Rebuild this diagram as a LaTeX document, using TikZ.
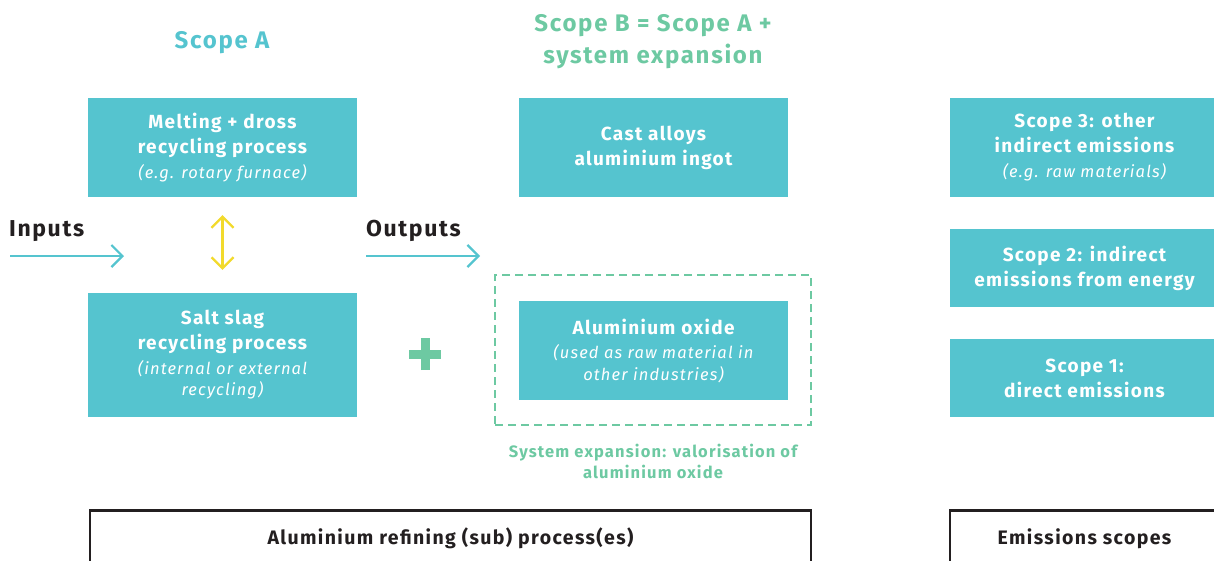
\documentclass[tikz,border=0pt]{standalone}
\usepackage{fontspec}
\setmainfont{Fira Sans}[LetterSpace=7]
\usetikzlibrary{arrows.meta,positioning}
\definecolor{boxteal}{HTML}{55C4CF}
\definecolor{scopegreen}{HTML}{6DC9A2}
\definecolor{arrowyellow}{HTML}{F2DA2C}
\definecolor{inktext}{HTML}{231F20}
\newcommand{\subtxt}[1]{{\fontsize{16.5}{20}\selectfont\mdseries\itshape #1}}
\tikzstyle{procbox}=[fill=boxteal,text=white,minimum width=269pt,minimum height=99pt,inner sep=0pt,align=center,font=\fontsize{19}{25}\selectfont\bfseries]
\tikzstyle{scopebox}=[procbox,minimum height=78pt]
\tikzstyle{footbox}=[draw=inktext,line width=2.5pt,anchor=north,minimum height=56pt,inner sep=0pt,text=inktext,font=\fontsize{19.5}{22}\selectfont\bfseries]
\tikzstyle{flowlabel}=[anchor=west,inner sep=0pt,text=inktext,font=\fontsize{23}{28}\selectfont\bfseries]
\tikzstyle{flowarrow}=[boxteal,line width=2.2pt,-{Straight Barb[length=11pt,width=22pt,line width=2.2pt]}]

\begin{document}
\begin{tikzpicture}[x=1pt,y=-1pt]
    \useasboundingbox (0,0) rectangle (1214,560);
    \clip (0,0) rectangle (1214,560);
    % scope titles
    \node [text=boxteal,font=\fontsize{24}{30}\selectfont\bfseries] (titleA) at (222,43) {Scope A};
    \node [text=scopegreen,align=center,font=\fontsize{24}{32}\selectfont\bfseries] (titleB) at (653,42) {Scope B = Scope A +\\system expansion};
    % process boxes
    \node [procbox] (melt) at (222.5,147.5) {Melting + dross\\recycling process\\\subtxt{(e.g. rotary furnace)}};
    \node [procbox,minimum height=124pt] (salt) at (222.5,355) {Salt slag\\recycling process\\\subtxt{(internal or external}\\[-4pt]\subtxt{recycling)}};
    \node [procbox] (cast) at (653.5,147.5) {Cast alloys\\aluminium ingot};
    \node [procbox] (oxide) at (653.5,350.5) {Aluminium oxide\\\subtxt{(used as raw material in}\\[-4pt]\subtxt{other industries)}};
    \node [draw=scopegreen,line width=2.2pt,dash pattern=on 8pt off 5pt,minimum width=316pt,minimum height=150pt] (expbox) at (653,350) {};
    \node [below=14pt of expbox,align=center,text=scopegreen,font=\fontsize{16.5}{21}\selectfont\bfseries] (explabel) {System expansion: valorisation of\\aluminium oxide};
    % emission scopes
    \node [procbox] (scope3) at (1084.5,147.5) {Scope 3: other\\indirect emissions\\\subtxt{(e.g. raw materials)}};
    \node [scopebox] (scope2) at (1084.5,268) {Scope 2: indirect\\emissions from energy};
    \node [scopebox] (scope1) at (1084.5,378) {Scope 1:\\direct emissions};
    % inputs and outputs
    \node [flowlabel] (inputs) at (9,231) {Inputs};
    \node [flowlabel] (outputs) at (366,231) {Outputs};
    \coordinate (in1) at (10,256);
    \coordinate (in2) at (124,256);
    \coordinate (out1) at (366,256);
    \coordinate (out2) at (480,256);
    \draw [flowarrow] (in1) -- (in2);
    \draw [flowarrow] (out1) -- (out2);
    \draw [arrowyellow,line width=2.2pt,{Straight Barb[length=11pt,width=22pt,line width=2.2pt]}-{Straight Barb[length=11pt,width=22pt,line width=2.2pt]},shorten <=18pt,shorten >=23pt] (melt) -- (salt);
    % plus sign
    \coordinate (plus) at (425,354);
    \draw [scopegreen,line width=9pt] ([xshift=-16pt]plus) -- ([xshift=16pt]plus);
    \draw [scopegreen,line width=9pt] ([yshift=-16pt]plus) -- ([yshift=16pt]plus);
    % footer boxes
    \node [footbox,minimum width=721pt] (refining) at (450.5,509) {Aluminium refining (sub) process(es)};
    \node [footbox,minimum width=269pt] (scopes) at (1084.5,509) {Emissions scopes};
\end{tikzpicture}
\end{document}
